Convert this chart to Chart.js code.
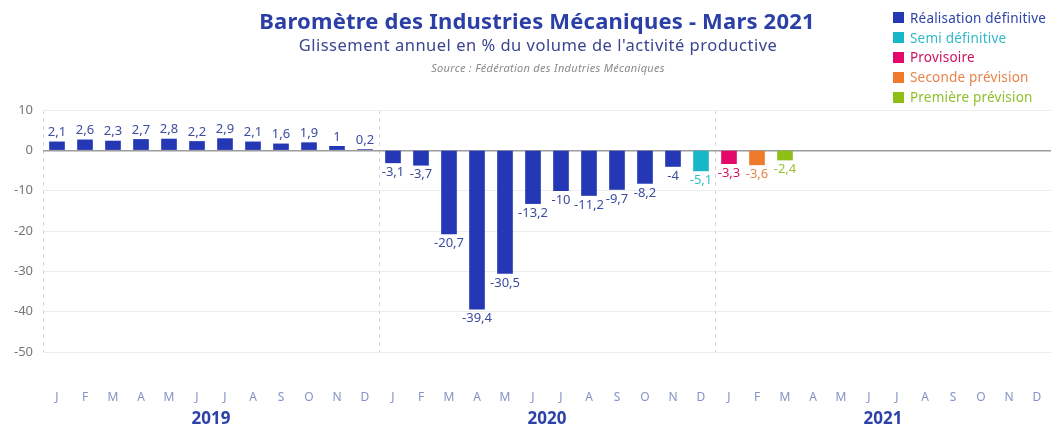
<!DOCTYPE html>
<html>
<head>
<meta charset="utf-8">
<script src="https://cdn.jsdelivr.net/npm/chart.js@4/dist/chart.umd.min.js"></script>
<style>
  html, body { margin: 0; padding: 0; background: #fff; }
  #wrap { position: relative; width: 1052px; height: 434px; overflow: hidden; font-family: "Noto Sans", sans-serif; }
  #c { position: absolute; left: 0; top: 0; }
  .t { position: absolute; white-space: nowrap; transform: translateX(-50%); }
  #title { left: 537px; top: 5px; font-size: 22px; letter-spacing: 0.2px; font-weight: 700; color: #2b3fa6; }
  #subtitle { left: 538px; top: 33px; font-size: 16.5px; letter-spacing: 0.5px; color: #3b4590; }
  #source { left: 548px; top: 60px; font-size: 11px; letter-spacing: 0.3px; font-style: italic; color: #8a8a8a; }
  #legend { position: absolute; left: 893px; top: 8px; }
  .li { display: flex; align-items: center; height: 19.8px; font-size: 13.5px; letter-spacing: 0.2px; }
  .sw { width: 11px; height: 11px; margin-right: 6px; }
</style>
</head>
<body>
<div id="wrap">
  <canvas id="c" width="1052" height="434"></canvas>
  <div id="title" class="t">Baromètre des Industries Mécaniques - Mars 2021</div>
  <div id="subtitle" class="t">Glissement annuel en % du volume de l'activité productive</div>
  <div id="source" class="t">Source : Fédération des Indutries Mécaniques</div>
  <div id="legend"></div>
</div>
<script>
const months = ['J','F','M','A','M','J','J','A','S','O','N','D'];
const categories = months.concat(months, months);
const years = ['2019', '2020', '2021'];
const yTicks = [10, 0, -10, -20, -30, -40, -50];

const seriesNames = ['Réalisation définitive', 'Semi définitive', 'Provisoire', 'Seconde prévision', 'Première prévision'];

const realisation = [2.1, 2.6, 2.3, 2.7, 2.8, 2.2, 2.9, 2.1, 1.6, 1.9, 1, 0.2,
  -3.1, -3.7, -20.7, -39.4, -30.5, -13.2, -10, -11.2, -9.7, -8.2, -4, null,
  null, null, null, null, null, null, null, null, null, null, null, null];
const semiDefinitive = [null, null, null, null, null, null, null, null, null, null, null, null,
  null, null, null, null, null, null, null, null, null, null, null, -5.1,
  null, null, null, null, null, null, null, null, null, null, null, null];
const provisoire = [null, null, null, null, null, null, null, null, null, null, null, null,
  null, null, null, null, null, null, null, null, null, null, null, null,
  -3.3, null, null, null, null, null, null, null, null, null, null, null];
const secondePrevision = [null, null, null, null, null, null, null, null, null, null, null, null,
  null, null, null, null, null, null, null, null, null, null, null, null,
  null, -3.6, null, null, null, null, null, null, null, null, null, null];
const premierePrevision = [null, null, null, null, null, null, null, null, null, null, null, null,
  null, null, null, null, null, null, null, null, null, null, null, null,
  null, null, -2.4, null, null, null, null, null, null, null, null, null];

const seriesData = [realisation, semiDefinitive, provisoire, secondePrevision, premierePrevision];
const barColors = ['#2438b5', '#17b7c9', '#e4086a', '#ef7a2c', '#8dbf16'];
const labelColors = ['#3d4c9e', '#35bccb', '#d3155f', '#e6864c', '#98c23a'];
const legendTextColors = ['#2f43a8', '#30b8c8', '#d0105e', '#e8844a', '#8fbf2a'];

// HTML legend
const legend = document.getElementById('legend');
seriesNames.forEach((n, i) => {
  const row = document.createElement('div');
  row.className = 'li';
  row.innerHTML = '<div class="sw" style="background:' + barColors[i] + '"></div><span style="color:' + legendTextColors[i] + '">' + n + '</span>';
  legend.appendChild(row);
});

const fmt = v => String(v).replace('.', ',');

const valueLabels = {
  id: 'valueLabels',
  afterDatasetsDraw(chart) {
    const ctx = chart.ctx;
    ctx.save();
    ctx.font = '13px "Noto Sans", sans-serif';
    ctx.textAlign = 'center';
    chart.data.datasets.forEach((ds, i) => {
      const meta = chart.getDatasetMeta(i);
      meta.data.forEach((bar, j) => {
        const v = ds.data[j];
        if (v === null || v === undefined) return;
        ctx.fillStyle = labelColors[i];
        if (v >= 0) {
          ctx.textBaseline = 'bottom';
          ctx.fillText(fmt(v), bar.x, bar.y - 3);
        } else {
          ctx.textBaseline = 'top';
          ctx.fillText(fmt(v), bar.x, bar.y + 3);
        }
      });
    });
    ctx.restore();
  }
};

new Chart(document.getElementById('c'), {
  type: 'bar',
  data: {
    labels: categories,
    datasets: seriesData.map((d, i) => ({
      label: seriesNames[i],
      data: d,
      backgroundColor: barColors[i],
      barThickness: 15,
      grouped: false,
      xAxisID: 'x',
      yAxisID: 'y'
    }))
  },
  options: {
    responsive: false,
    animation: false,
    devicePixelRatio: 1,
    layout: { padding: { top: 110, right: 1, left: 0, bottom: 0 } },
    plugins: { legend: { display: false }, tooltip: { enabled: false }, title: { display: false } },
    scales: {
      x: {
        type: 'category',
        labels: categories,
        offset: true,
        position: 'bottom',
        weight: 0,
        grid: {
          offset: true,
          drawTicks: true,
          tickLength: 38,
          tickColor: 'rgba(0,0,0,0)',
          color: c => (c.index % 12 === 0 && c.index < 36) ? '#d9d9d9' : 'rgba(0,0,0,0)',
          lineWidth: 1
        },
        border: { display: false, dash: [4, 4] },
        ticks: {
          padding: 0,
          autoSkip: false,
          maxRotation: 0,
          color: '#8592c6',
          font: { family: '"Noto Sans", sans-serif', size: 12 }
        },
        afterFit: s => { s.height = 52; }
      },
      x2: {
        type: 'category',
        labels: years,
        offset: true,
        position: 'bottom',
        weight: 1,
        grid: { display: false, drawTicks: false },
        border: { display: false },
        ticks: {
          padding: 5,
          color: '#2c42a8',
          font: { family: '"Noto Sans", sans-serif', size: 17, weight: 'bold' }
        },
        afterFit: s => { s.height = 30; }
      },
      y: {
        min: -50,
        max: 10,
        afterBuildTicks: s => { s.ticks = yTicks.map(v => ({ value: v })); },
        grid: {
          drawTicks: false,
          color: c => (c.tick && c.tick.value === 0) ? '#9c9c9c' : '#ececec',
          lineWidth: c => (c.tick && c.tick.value === 0) ? 1.5 : 1
        },
        border: { display: false },
        ticks: {
          padding: 10,
          color: '#767676',
          font: { family: '"Noto Sans", sans-serif', size: 13 }
        },
        afterFit: s => { s.width = 43; }
      }
    }
  },
  plugins: [valueLabels]
});
</script>
</body>
</html>
